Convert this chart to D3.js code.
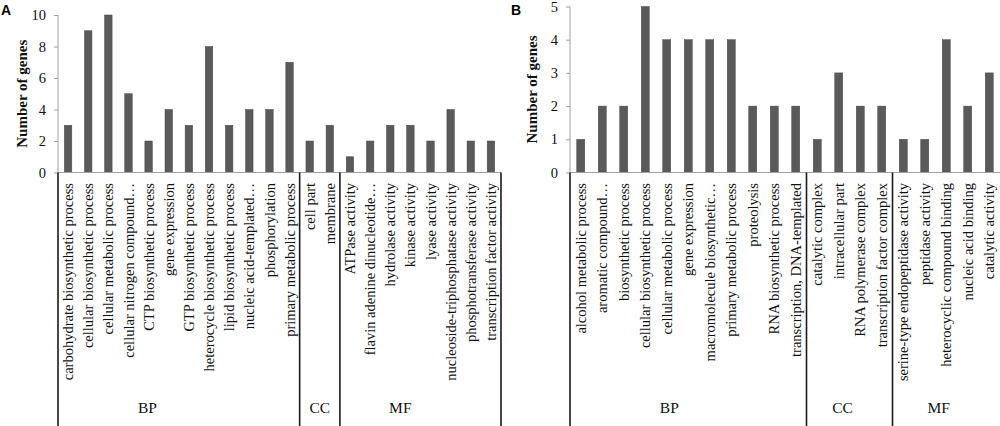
<!DOCTYPE html>
<html>
<head>
<meta charset="utf-8">
<script src="https://cdnjs.cloudflare.com/ajax/libs/d3/7.8.5/d3.min.js"></script>
<style>
  html, body { margin: 0; padding: 0; background: #fff; }
  svg { display: block; }
  .serif { font-family: "Liberation Serif", "Times New Roman", serif; }
</style>
</head>
<body>
<svg id="chart" width="1000" height="426"></svg>
<script>
// ---- data ----
var catsA = [
  "carbohydrate biosynthetic process", "cellular biosynthetic process", "cellular metabolic process",
  "cellular nitrogen compound\u2026", "CTP biosynthetic process", "gene expression",
  "GTP biosynthetic process", "heterocycle biosynthetic process", "lipid biosynthetic process",
  "nucleic acid-templated\u2026", "phosphorylation", "primary metabolic process",
  "cell part", "membrane",
  "ATPase activity", "flavin adenine dinucleotide\u2026", "hydrolase activity", "kinase activity",
  "lyase activity", "nucleoside-triphosphatase activity", "phosphotransferase activity",
  "transcription factor activity"
];
var valuesA = [3, 9, 10, 5, 2, 4, 3, 8, 3, 4, 4, 7, 2, 3, 1, 2, 3, 3, 2, 4, 2, 2];
var groupsA = ["BP", "CC", "MF"];
var groupSizesA = [12, 2, 8];
var ticksA = [0, 2, 4, 6, 8, 10];

var catsB = [
  "alcohol metabolic process", "aromatic compound\u2026", "biosynthetic process",
  "cellular biosynthetic process", "cellular metabolic process", "gene expression",
  "macromolecule biosynthetic\u2026", "primary metabolic process", "proteolysis",
  "RNA biosynthetic process", "transcription, DNA-templated",
  "catalytic complex", "intracellular part", "RNA polymerase complex", "transcription factor complex",
  "serine-type endopeptidase activity", "peptidase activity", "heterocyclic compound binding",
  "nucleic acid binding", "catalytic activity"
];
var valuesB = [1, 2, 2, 5, 4, 4, 4, 4, 2, 2, 2, 1, 3, 2, 2, 1, 1, 4, 2, 3];
var groupsB = ["BP", "CC", "MF"];
var groupSizesB = [11, 4, 5];
var ticksB = [0, 1, 2, 3, 4, 5];

// ---- layout ----
var svg = d3.select("#chart");
var baseY = 172.5;
var barColor = "#5a5a5a";

var panels = [
  { letter: "A", letterX: 1, cats: catsA, values: valuesA, groups: groupsA, sizes: groupSizesA,
    ticks: ticksA, max: 10, x0: 58, x1: 501, top: 15, barW: 7.5, titleX: 22,
    closeRight: true, labelFrac: [0.37, 0.5, 0.375] },
  { letter: "B", letterX: 511, cats: catsB, values: valuesB, groups: groupsB, sizes: groupSizesB,
    ticks: ticksB, max: 5, x0: 570, x1: 1000, top: 6.5, barW: 8, titleX: 532,
    closeRight: false, labelFrac: [0.42, 0.42, 0.43] }
];

panels.forEach(drawPanel);

function drawPanel(p) {
  var g = svg.append("g");

  var x = d3.scaleBand()
    .domain(d3.range(p.cats.length))
    .range([p.x0, p.x1])
    .paddingInner(0)
    .paddingOuter(0);

  var y = d3.scaleLinear()
    .domain([0, p.max])
    .range([baseY, p.top]);

  // bars
  g.selectAll("rect.bar")
    .data(p.values)
    .enter().append("rect")
    .attr("class", "bar")
    .attr("x", function(d, i){ return x(i) + x.bandwidth() / 2 - p.barW / 2; })
    .attr("width", p.barW)
    .attr("y", function(d){ return y(d); })
    .attr("height", function(d){ return y(0) - y(d); })
    .attr("fill", barColor)
    .attr("stroke", "#4a4a4a")
    .attr("stroke-width", 0.5);

  // y axis
  var yAxis = d3.axisLeft(y)
    .tickValues(p.ticks)
    .tickSize(4)
    .tickPadding(8)
    .tickFormat(d3.format("d"));

  var ya = g.append("g")
    .attr("transform", "translate(" + p.x0 + ",0)")
    .call(yAxis);
  ya.select(".domain").attr("stroke", "#a0a0a0").attr("d", "M0," + y(p.max) + "V" + baseY);
  ya.selectAll(".tick line").attr("stroke", "#a0a0a0");
  ya.selectAll(".tick text")
    .attr("class", "serif")
    .style("font-size", "14.5px")
    .attr("fill", "#111");

  // x axis line
  g.append("line")
    .attr("x1", p.x0).attr("x2", p.x1)
    .attr("y1", baseY).attr("y2", baseY)
    .attr("stroke", "#a0a0a0")
    .attr("stroke-width", 1.2);

  // category labels
  g.selectAll("text.cat")
    .data(p.cats)
    .enter().append("text")
    .attr("class", "cat serif")
    .attr("transform", function(d, i){
      return "translate(" + (x(i) + x.bandwidth() / 2) + "," + (baseY + 10.5) + ") rotate(-90)";
    })
    .attr("dy", "0.35em")
    .attr("text-anchor", "end")
    .style("font-size", "14.5px")
    .attr("fill", "#111")
    .text(function(d){ return d; });

  // group separators and group labels
  var start = 0;
  var bounds = [];
  p.sizes.forEach(function(n){
    bounds.push([start, start + n]);
    start += n;
  });

  var sepX = bounds.map(function(b){ return x(b[0]); });
  if (p.closeRight) sepX.push(p.x1);

  g.selectAll("line.sep")
    .data(sepX)
    .enter().append("line")
    .attr("class", "sep")
    .attr("x1", function(d){ return d; })
    .attr("x2", function(d){ return d; })
    .attr("y1", baseY)
    .attr("y2", 426)
    .attr("stroke", "#1a1a1a")
    .attr("stroke-width", 1.6);

  g.selectAll("text.grp")
    .data(p.groups)
    .enter().append("text")
    .attr("class", "grp serif")
    .attr("x", function(d, i){
      var b = bounds[i];
      var a = x(b[0]);
      var e = b[1] >= p.cats.length ? p.x1 : x(b[1]);
      return a + (e - a) * p.labelFrac[i];
    })
    .attr("y", 413)
    .attr("text-anchor", "middle")
    .style("font-size", "15.5px")
    .attr("fill", "#111")
    .text(function(d){ return d; });

  // y title
  g.append("text")
    .attr("class", "serif")
    .attr("transform", "translate(" + p.titleX + "," + ((y(p.max) + baseY) / 2) + ") rotate(-90)")
    .attr("dy", "0.35em")
    .attr("text-anchor", "middle")
    .style("font-size", "15px")
    .style("font-weight", "bold")
    .attr("fill", "#111")
    .text("Number of genes");

  // panel letter
  g.append("text")
    .attr("x", p.letterX)
    .attr("y", 14.5)
    .style("font-family", "'Liberation Sans', Arial, sans-serif")
    .style("font-size", "14px")
    .style("font-weight", "bold")
    .attr("fill", "#000")
    .text(p.letter);
}
</script>
</body>
</html>
